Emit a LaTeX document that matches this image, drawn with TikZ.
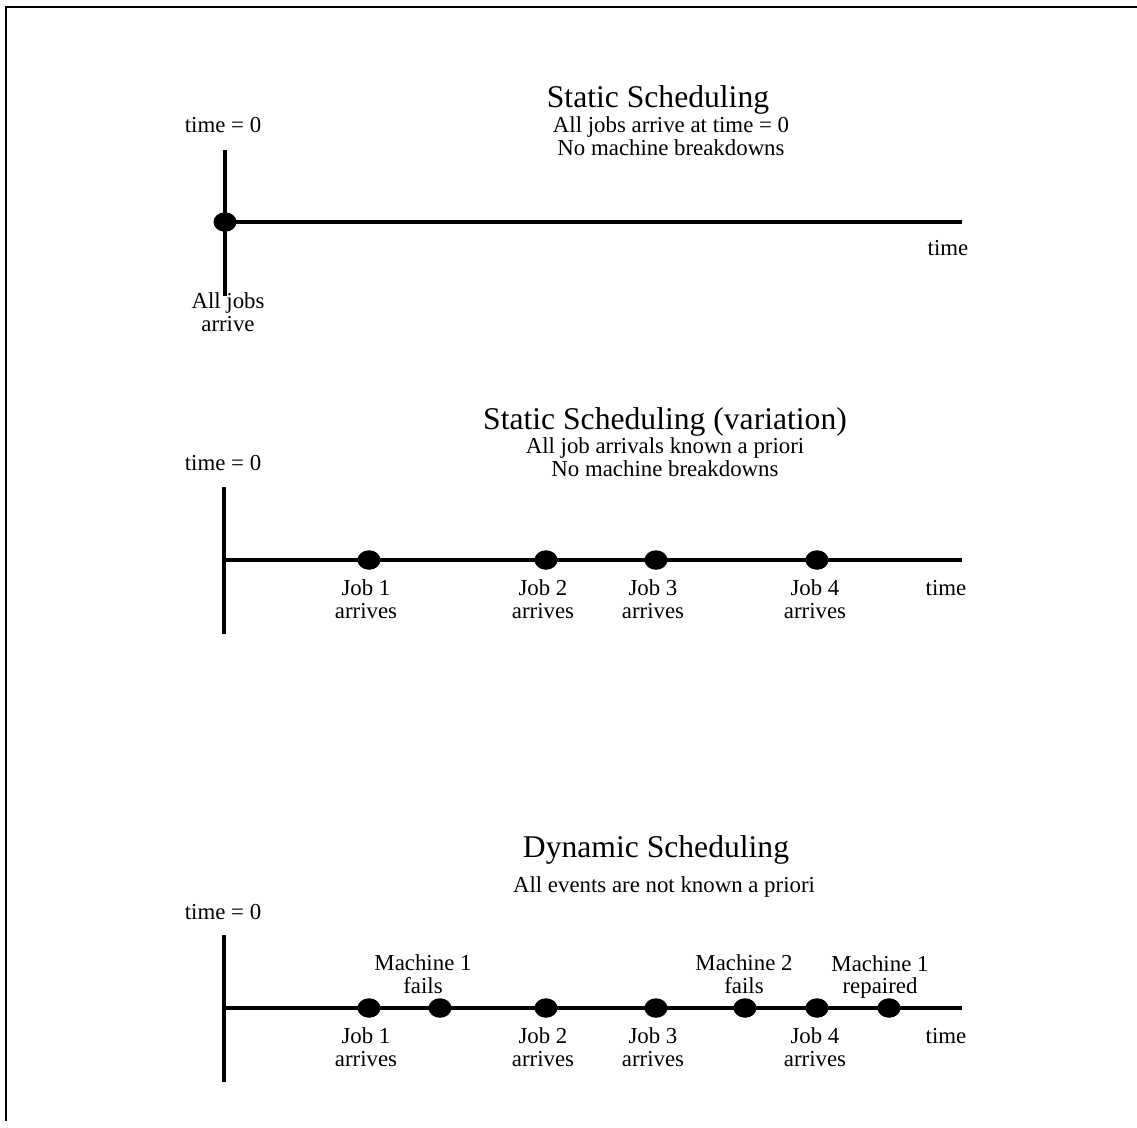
\documentclass[tikz,border=0pt]{standalone}
\usepackage{fontspec}
\setmainfont{Liberation Serif}
\usetikzlibrary{shapes, positioning}

\begin{document}
\begin{tikzpicture}[x=0.02cm, y=-0.02cm,
  axisline/.style={line width=1.9pt},
  event/.style={ellipse, fill=black, inner sep=0pt, minimum width=0.46cm, minimum height=0.39cm},
  lbl/.style={align=center, font=\fontsize{13}{13}\selectfont, inner sep=0pt},
  ttl/.style={font=\fontsize{18}{20}\selectfont, inner sep=0pt}
]
  \useasboundingbox (0,0) rectangle (1137,1127);
  % frame (top and left only)
  \coordinate (fbot) at (6,1121);
  \coordinate (fcorner) at (6,7);
  \coordinate (fright) at (1137,7);
  \draw[line width=1.6pt] (fbot) -- (fcorner) -- (fright);

  % static scheduling
  \node[ttl] (t1) at (658,100) {Static Scheduling};
  \node[lbl] (s1) at (671,136) {All jobs arrive at time = 0\\No machine breakdowns};
  \node[lbl] (z1) at (223,125) {time = 0};
  \coordinate (v1top) at (225,150);
  \coordinate (v1bot) at (225,296);
  \coordinate (h1end) at (962,222);
  \node[event] (e1) at (225,222) {};
  \draw[axisline] (v1top) -- (v1bot);
  \draw[axisline] (e1.center) -- (h1end);
  \node[lbl] (tm1) at (948,248) {time};
  \node[lbl] (a1) at (228,312) {All jobs\\arrive};

  % static scheduling (variation)
  \node[ttl] (t2) at (665,422) {Static Scheduling (variation)};
  \node[lbl] (s2) at (665,457) {All job arrivals known a priori\\No machine breakdowns};
  \node[lbl] (z2) at (223,463) {time = 0};
  \coordinate (v2top) at (224,487);
  \coordinate (v2bot) at (224,634);
  \coordinate (h2start) at (224,560);
  \coordinate (h2end) at (962,560);
  \draw[axisline] (v2top) -- (v2bot);
  \draw[axisline] (h2start) -- (h2end);
  \node[event] (j21) at (369,560) {};
  \node[event] (j22) at (546,560) {};
  \node[event] (j23) at (656,560) {};
  \node[event] (j24) at (817,560) {};
  \node[lbl] (l21) at (366,599) {Job 1\\arrives};
  \node[lbl] (l22) at (543,599) {Job 2\\arrives};
  \node[lbl] (l23) at (653,599) {Job 3\\arrives};
  \node[lbl] (l24) at (815,599) {Job 4\\arrives};
  \node[lbl] (tm2) at (946,588) {time};

  % dynamic scheduling
  \node[ttl] (t3) at (656,850) {Dynamic Scheduling};
  \node[lbl] (s3) at (664,887) {All events are not known a priori};
  \node[lbl] (z3) at (223,912) {time = 0};
  \coordinate (v3top) at (224,935);
  \coordinate (v3bot) at (224,1082);
  \coordinate (h3start) at (224,1008);
  \coordinate (h3end) at (962,1008);
  \draw[axisline] (v3top) -- (v3bot);
  \draw[axisline] (h3start) -- (h3end);
  \node[event] (j31) at (369,1008) {};
  \node[event] (m31) at (440,1008) {};
  \node[event] (j32) at (546,1008) {};
  \node[event] (j33) at (656,1008) {};
  \node[event] (m32) at (745,1008) {};
  \node[event] (j34) at (817,1008) {};
  \node[event] (r31) at (889,1008) {};
  \node[lbl] (l31) at (366,1047) {Job 1\\arrives};
  \node[lbl] (l32) at (543,1047) {Job 2\\arrives};
  \node[lbl] (l33) at (653,1047) {Job 3\\arrives};
  \node[lbl] (l34) at (815,1047) {Job 4\\arrives};
  \node[lbl] (f31) at (423,974) {Machine 1\\fails};
  \node[lbl] (f32) at (744,974) {Machine 2\\fails};
  \node[lbl] (f33) at (880,977) {Machine 1\\repaired};
  \node[lbl] (tm3) at (946,1036) {time};
\end{tikzpicture}
\end{document}
